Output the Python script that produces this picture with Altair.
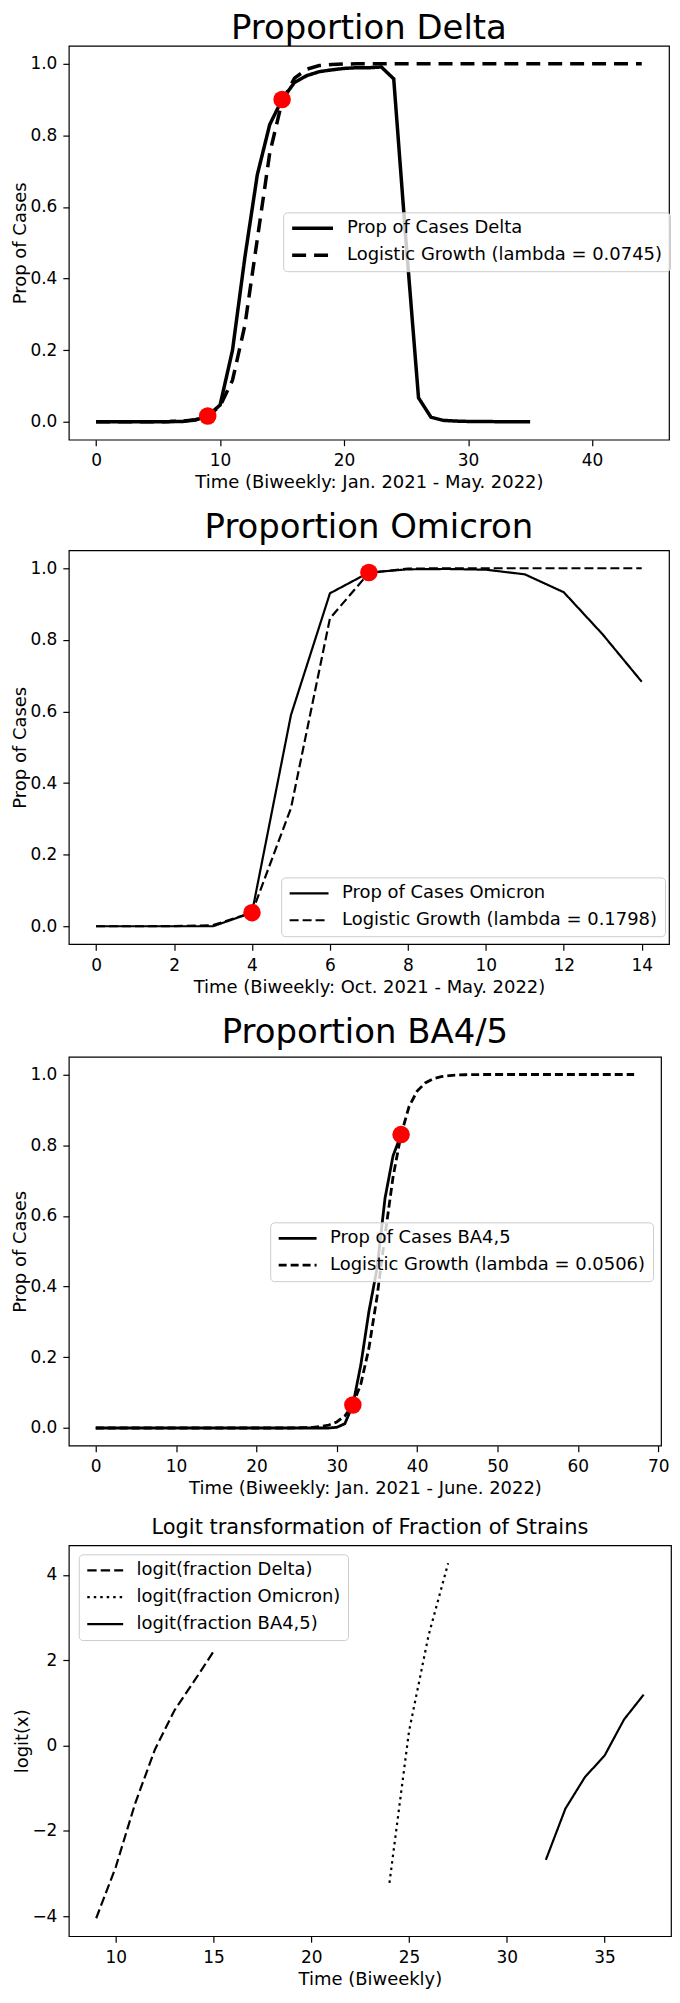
import altair as alt
import pandas as pd

FONT = "DejaVu Sans"

# ---------------- Panel 1: Delta ----------------
delta_t = list(range(36))
delta_prop = [0.0, 0.0, 0.0, 0.0, 0.0, 0.0, 0.0005, 0.001, 0.005, 0.016,
              0.047, 0.20, 0.46, 0.69, 0.83, 0.90, 0.948, 0.967, 0.978, 0.983,
              0.987, 0.989, 0.989, 0.991, 0.958, 0.50, 0.067, 0.013, 0.004, 0.002,
              0.001, 0.001, 0.0005, 0.0, 0.0, 0.0]
delta_fit_t = list(range(45))
delta_fit = [0.0, 0.0, 0.0, 0.0, 0.0001, 0.0003, 0.0007, 0.002, 0.0057, 0.016,
             0.044, 0.116, 0.27, 0.51, 0.75, 0.895, 0.96, 0.985, 0.995, 0.998,
             0.9994, 0.9998, 1.0, 1.0, 1.0, 1.0, 1.0, 1.0, 1.0, 1.0,
             1.0, 1.0, 1.0, 1.0, 1.0, 1.0, 1.0, 1.0, 1.0, 1.0,
             1.0, 1.0, 1.0, 1.0, 1.0]
delta_dot_t = [9, 15]
delta_dot_v = [0.016, 0.90]
delta_labels = ["Prop of Cases Delta", "Logistic Growth (lambda = 0.0745)"]

# ---------------- Panel 2: Omicron ----------------
omi_t = list(range(15))
omi_prop = [0.0, 0.0, 0.0, 0.0, 0.038, 0.59, 0.93, 0.988, 0.997, 0.998,
            0.996, 0.983, 0.933, 0.815, 0.683]
omi_fit = [0.0, 0.0, 0.0003, 0.0032, 0.038, 0.33, 0.86, 0.987, 0.9989, 0.9999,
           1.0, 1.0, 1.0, 1.0, 1.0]
omi_dot_t = [4, 7]
omi_dot_v = [0.038, 0.988]
omi_labels = ["Prop of Cases Omicron", "Logistic Growth (lambda = 0.1798)"]

# ---------------- Panel 3: BA4/5 ----------------
ba_t = list(range(39))
ba_prop = [0.0] * 30 + [0.002, 0.012, 0.065, 0.18, 0.33, 0.45, 0.65, 0.77, 0.83]
ba_fit_t = list(range(68))
ba_fit = ([0.0] * 25 +
          [0.0005, 0.001, 0.002, 0.004, 0.0084, 0.017, 0.034, 0.066, 0.125, 0.226,
           0.37, 0.545, 0.71, 0.83, 0.91, 0.953, 0.976, 0.988, 0.994, 0.997,
           0.9986, 0.9993, 0.9997] +
          [1.0] * 20)
ba_dot_t = [32, 38]
ba_dot_v = [0.065, 0.83]
ba_labels = ["Prop of Cases BA4,5", "Logistic Growth (lambda = 0.0506)"]

# ---------------- Panel 4: logit ----------------
lg_delta_t = [9, 10, 11, 12, 13, 14, 15]
lg_delta = [-4.05, -2.85, -1.35, -0.1, 0.82, 1.5, 2.2]
lg_omi_t = [24, 25, 26, 27]
lg_omi = [-3.22, 0.33, 2.58, 4.27]
lg_ba_t = [32, 33, 34, 35, 36, 37]
lg_ba = [-2.68, -1.48, -0.74, -0.24, 0.61, 1.19]
lg_labels = ["logit(fraction Delta)", "logit(fraction Omicron)", "logit(fraction BA4,5)"]


def long_df(parts):
    rows = []
    for name, ts, vs in parts:
        for t, v in zip(ts, vs):
            rows.append({"series": name, "t": t, "v": v})
    return pd.DataFrame(rows)


def panel(df, dots, labels, dashes, sw, xdom, xticks, xfmt, ydom, yticks, yfmt,
          title, tsize, toffset, xtitle, ytitle, w, h, lx, ly, symlen, symw):
    legend = alt.Legend(
        title=None, orient="none", legendX=lx, legendY=ly,
        symbolType="stroke", symbolSize=symlen * symlen, symbolStrokeWidth=symw,
        symbolStrokeColor="black", labelFont=FONT, labelFontSize=18,
        labelColor="black", labelLimit=0, fillColor="rgba(255,255,255,0.8)",
        strokeColor="#cccccc", cornerRadius=4, padding=7, rowPadding=9,
        labelOffset=12, clipHeight=18,
    )
    xs = alt.Scale(domain=xdom, nice=False, zero=False)
    ys = alt.Scale(domain=ydom, nice=False, zero=False)
    lines = alt.Chart(df).mark_line(color="black", strokeWidth=sw).encode(
        x=alt.X("t:Q", scale=xs, axis=alt.Axis(values=xticks, format=xfmt, title=xtitle)),
        y=alt.Y("v:Q", scale=ys, axis=alt.Axis(values=yticks, format=yfmt, title=ytitle)),
        strokeDash=alt.StrokeDash("series:N", scale=alt.Scale(domain=labels, range=dashes),
                                  legend=legend),
    )
    layers = [lines]
    if dots is not None:
        pts = alt.Chart(dots).mark_circle(color="red", size=310, opacity=1).encode(
            x=alt.X("t:Q", scale=xs), y=alt.Y("v:Q", scale=ys))
        layers.append(pts)
    return alt.layer(*layers).properties(
        width=w, height=h,
        title=alt.TitleParams(text=title, fontSize=tsize, font=FONT, fontWeight="normal",
                              color="black", anchor="middle", frame="group",
                              offset=toffset))


ticks01 = [0.0, 0.2, 0.4, 0.6, 0.8, 1.0]

p1 = panel(
    long_df([(delta_labels[0], delta_t, delta_prop), (delta_labels[1], delta_fit_t, delta_fit)]),
    pd.DataFrame({"t": delta_dot_t, "v": delta_dot_v}),
    delta_labels, [[1, 0], [14, 8]], 3.5,
    [-2.2, 46.2], [0, 10, 20, 30, 40], "d", [-0.05, 1.05], ticks01, ".1f",
    "Proportion Delta", 34, 0, "Time (Biweekly: Jan. 2021 - May. 2022)", "Prop of Cases",
    602, 395, 215, 167, 41, 3.5)

p2 = panel(
    long_df([(omi_labels[0], omi_t, omi_prop), (omi_labels[1], omi_t, omi_fit)]),
    pd.DataFrame({"t": omi_dot_t, "v": omi_dot_v}),
    omi_labels, [[1, 0], [9, 4]], 2.2,
    [-0.7, 14.7], [0, 2, 4, 6, 8, 10, 12, 14], "d", [-0.05, 1.05], ticks01, ".1f",
    "Proportion Omicron", 34, 5, "Time (Biweekly: Oct. 2021 - May. 2022)", "Prop of Cases",
    602, 395, 213, 328, 39, 2.2)

p3 = panel(
    long_df([(ba_labels[0], ba_t, ba_prop), (ba_labels[1], ba_fit_t, ba_fit)]),
    pd.DataFrame({"t": ba_dot_t, "v": ba_dot_v}),
    ba_labels, [[1, 0], [8, 4]], 2.8,
    [-3.35, 70.35], [0, 10, 20, 30, 40, 50, 60, 70], "d", [-0.05, 1.05], ticks01, ".1f",
    "Proportion BA4/5", 34, 7, "Time (Biweekly: Jan. 2021 - June. 2022)", "Prop of Cases",
    594, 390, 202, 166, 38, 2.8)

p4 = panel(
    long_df([(lg_labels[0], lg_delta_t, lg_delta), (lg_labels[1], lg_omi_t, lg_omi),
             (lg_labels[2], lg_ba_t, lg_ba)]),
    None,
    lg_labels, [[9.4, 4.1], [2.5, 4], [1, 0]], 2.2,
    [7.6, 38.4], [10, 15, 20, 25, 30, 35], "d", [-4.47, 4.69], [-4, -2, 0, 2, 4], "d",
    "Logit transformation of Fraction of Strains", 21, 7, "Time (Biweekly)", "logit(x)",
    604, 392, 10, 9, 36, 2.2)

chart = alt.vconcat(p1, p2, p3, p4, spacing=18).resolve_scale(
    strokeDash="independent"
).resolve_legend(
    strokeDash="independent"
).properties(
    padding={"left": 3, "top": 0, "right": 0, "bottom": 0}, background="white"
).configure_view(
    stroke="black", strokeWidth=1.2
).configure_axis(
    labelFont=FONT, labelFontSize=17, labelColor="black",
    titleFont=FONT, titleFontSize=18, titleFontWeight="normal", titleColor="black",
    tickColor="black", tickSize=6, tickWidth=1.2, domain=False, grid=False,
    labelPadding=6, labelFlush=False,
).configure_axisX(
    titlePadding=5, labelPadding=7
).configure_axisY(
    titlePadding=0
)

chart.save("out.html", embed_options={"renderer": "svg", "actions": False})
